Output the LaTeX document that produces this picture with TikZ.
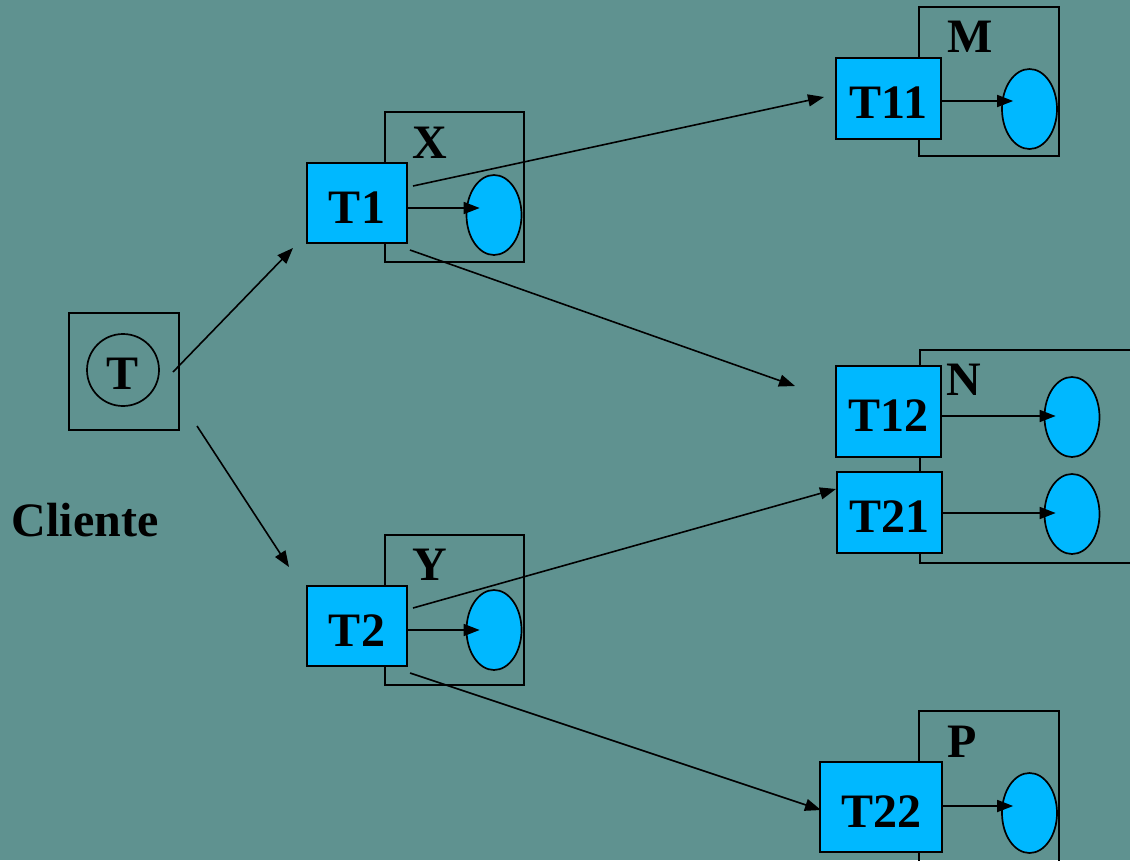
\documentclass[tikz,border=0pt]{standalone}
\usepackage{fontspec}
\setmainfont{Liberation Serif}
\usetikzlibrary{arrows.meta,calc,shapes.geometric}
\definecolor{bgteal}{RGB}{95,146,144}
\definecolor{taskblue}{RGB}{0,184,255}

\begin{document}
\begin{tikzpicture}[x=1pt,y=-1pt,line width=1.7pt,
  big/.style={font=\fontsize{48}{52}\selectfont\bfseries},
  lbl/.style={big,inner sep=0pt},
  host/.style={draw,rectangle,inner sep=0pt},
  task/.style={big,draw,fill=taskblue,rectangle,inner sep=0pt,text height=40pt,text depth=0pt},
  obj/.style={draw,fill=taskblue,ellipse,inner sep=0pt,minimum width=55pt,minimum height=80pt},
  arr/.style={-{Triangle[length=16pt,width=12pt]}},
  call/.style={arr,line width=1.6pt}]

% page and background
\useasboundingbox (0,0) rectangle (1130,860);
\fill[bgteal] (0,0) rectangle (1130,860);
\clip (0,0) rectangle (1130,860);

% client
\node[host,minimum width=110pt,minimum height=117pt] (cli) at (124,371.5) {};
\node[draw,circle,minimum size=72pt,inner sep=0pt] (tc) at (123,370) {};
\node[lbl] (tt) at (123,374) {T};
\node[lbl] (clabel) at (85,520) {Cliente};

% server X
\node[host,minimum width=139pt,minimum height=150pt] (hx) at (454.5,187) {};
\node[lbl] (lx) at (430,143) {X};
\node[task,minimum width=100pt,minimum height=80pt] (t1) at (357,203) {T1};
\node[obj] (ex) at (494,215) {};

% server Y
\node[host,minimum width=139pt,minimum height=150pt] (hy) at (454.5,610) {};
\node[lbl] (ly) at (430,565) {Y};
\node[task,minimum width=100pt,minimum height=80pt] (t2) at (357,626) {T2};
\node[obj] (ey) at (494,630) {};

% server M
\node[host,minimum width=140pt,minimum height=149pt] (hm) at (989,81.5) {};
\node[lbl] (lm) at (970,37) {M};
\node[task,minimum width=105pt,minimum height=81pt] (t11) at (888.5,98.5) {T11};
\node[obj] (em) at (1029.5,109) {};

% server N
\node[host,minimum width=220pt,minimum height=213pt] (hn) at (1030,456.5) {};
\node[lbl] (ln) at (964,380) {N};
\node[task,minimum width=105pt,minimum height=91pt] (t12) at (888.5,411.5) {T12};
\node[task,minimum width=105pt,minimum height=81pt] (t21) at (889.5,512.5) {T21};
\node[obj] (en1) at (1072,417) {};
\node[obj] (en2) at (1072,514) {};

% server P
\node[host,minimum width=140pt,minimum height=160pt] (hp) at (989,791) {};
\node[lbl] (lp) at (962,742) {P};
\node[task,minimum width=122pt,minimum height=90pt] (t22) at (881,807) {T22};
\node[obj] (ep) at (1029.5,813) {};

% local calls inside each server (horizontal)
\draw[arr] ($(t1.east)+(0,5)$)    -- ($(ex.west)+(14,-7)$);
\draw[arr] ($(t2.east)+(0,4)$)    -- ($(ey.west)+(14,0)$);
\draw[arr] ($(t11.east)+(0,2.5)$) -- ($(em.west)+(12,-8)$);
\draw[arr] ($(t12.east)+(0,4.5)$) -- ($(en1.west)+(12,-1)$);
\draw[arr] ($(t21.east)+(0,0.5)$) -- ($(en2.west)+(12,-1)$);
\draw[arr] ($(t22.east)+(0,-1)$)  -- ($(ep.west)+(12,-7)$);

% remote calls
\coordinate (c1s) at (173,372);
\coordinate (c1e) at (293,248);
\coordinate (c2s) at (197,426);
\coordinate (c2e) at (289,567);
\coordinate (x1s) at (413,186);
\coordinate (x1e) at (824,97);
\coordinate (x2s) at (410,250);
\coordinate (x2e) at (795,386);
\coordinate (y1s) at (413,608);
\coordinate (y1e) at (836,489);
\coordinate (y2s) at (410,673);
\coordinate (y2e) at (821,810);
\draw[call] (c1s) -- (c1e);
\draw[call] (c2s) -- (c2e);
\draw[call] (x1s) -- (x1e);
\draw[call] (x2s) -- (x2e);
\draw[call] (y1s) -- (y1e);
\draw[call] (y2s) -- (y2e);
\end{tikzpicture}
\end{document}
